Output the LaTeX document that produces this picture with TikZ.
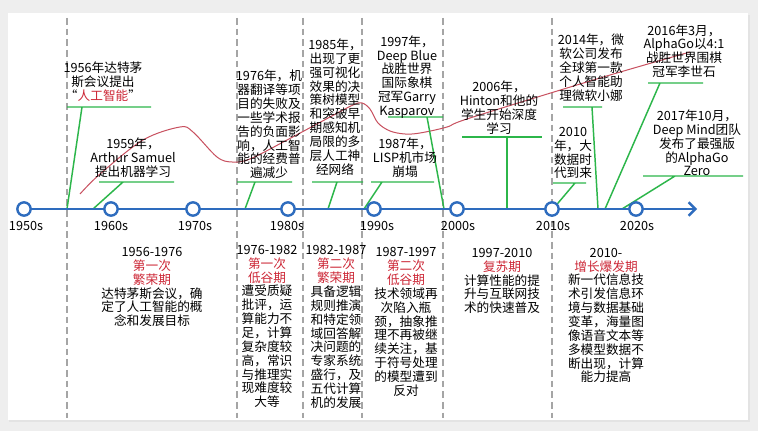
\documentclass[tikz,border=0pt]{standalone}
\usepackage{fontspec}
\setmainfont{Noto Sans CJK SC}
\usetikzlibrary{arrows.meta,positioning}
\definecolor{axisblue}{RGB}{46,108,190}
\definecolor{callgreen}{RGB}{44,182,74}
\definecolor{hotred}{RGB}{205,40,55}
\definecolor{trendred}{RGB}{200,80,95}
\definecolor{pagegray}{RGB}{238,238,238}
\definecolor{rulegray}{RGB}{165,165,165}

\begin{document}
\begin{tikzpicture}[x=0.75pt,y=-0.75pt,
    txt/.style={align=center,inner sep=0pt,font=\fontsize{9.5}{10.4}\selectfont},
    year/.style={inner sep=0pt,font=\fontsize{9.5}{10.4}\selectfont},
    dot/.style={circle,draw=axisblue,line width=1.8pt,fill=white,minimum size=10pt,inner sep=0pt},
    era/.style={draw=rulegray,line width=0.9pt,dash pattern=on 5pt off 3pt},
    axis/.style={draw=axisblue,line width=1.8pt,-{Straight Barb[length=5pt,width=10pt]}},
    callout/.style={draw=callgreen,line width=1.1pt},
    trend/.style={draw=trendred,line width=0.75pt}
]
% page and card
\fill[pagegray] (0,0) rectangle (758,431);
\fill[gray!22] (9,15) rectangle (750,422);
\fill[white] (8,13) rectangle (748,420);

% era separators
\coordinate (s1t) at (67,18);  \coordinate (s1b) at (67,418);
\coordinate (s2t) at (237,18); \coordinate (s2b) at (237,418);
\coordinate (s3t) at (303,18); \coordinate (s3b) at (303,418);
\coordinate (s4t) at (362,18); \coordinate (s4b) at (362,418);
\coordinate (s5t) at (443,18); \coordinate (s5b) at (443,418);
\coordinate (s6t) at (552,18); \coordinate (s6b) at (552,418);
\draw[era] (s1t)--(s1b);
\draw[era] (s2t)--(s2b);
\draw[era] (s3t)--(s3b);
\draw[era] (s4t)--(s4b);
\draw[era] (s5t)--(s5b);
\draw[era] (s6t)--(s6b);

% trend curve
\draw[trend] plot[smooth,tension=0.55] coordinates {(80,194) (100,174) (143,140) (180,127)
  (193,132) (217,157) (232,162) (250,159) (287,140) (330,117) (353,105) (362,103)
  (370,109) (378,123) (390,131) (405,134) (420,133) (447,127) (470,118) (600,78) (690,52)};

% callouts: underline, knee, foot on the axis
\coordinate (u56l) at (67,107);  \coordinate (u56r) at (151,107); \coordinate (k56) at (82,107);  \coordinate (f56) at (67,209);
\coordinate (u59l) at (99,182);  \coordinate (u59r) at (174,182); \coordinate (k59) at (123,182); \coordinate (f59) at (93,209);
\coordinate (u76l) at (237,182); \coordinate (u76r) at (292,182); \coordinate (k76) at (255,182); \coordinate (f76) at (245,209);
\coordinate (u85l) at (312,182); \coordinate (u85r) at (363,182); \coordinate (k85) at (337,182); \coordinate (f85) at (328,209);
\coordinate (u97l) at (388,117); \coordinate (u97r) at (443,117); \coordinate (k97) at (427,117); \coordinate (f97) at (444,209);
\coordinate (u87l) at (371,182); \coordinate (u87r) at (434,182); \coordinate (k87) at (382,182); \coordinate (f87) at (364,209);
\coordinate (u06l) at (462,137); \coordinate (u06r) at (542,137); \coordinate (k06) at (507,137); \coordinate (f06) at (507,209);
\coordinate (u10l) at (553,183); \coordinate (u10r) at (586,183); \coordinate (k10) at (575,183); \coordinate (f10) at (553,209);
\coordinate (u14l) at (563,107); \coordinate (u14r) at (602,107); \coordinate (k14) at (592,107); \coordinate (f14) at (598,209);
\coordinate (u16l) at (648,83);  \coordinate (u16r) at (703,83);  \coordinate (k16) at (660,83);  \coordinate (f16) at (605,209);
\coordinate (u17l) at (643,176); \coordinate (u17r) at (743,176); \coordinate (k17) at (675,176); \coordinate (f17) at (622,209);
\draw[callout] (u56l)--(u56r) (k56)--(f56);
\draw[callout] (u59l)--(u59r) (k59)--(f59);
\draw[callout] (u76l)--(u76r) (k76)--(f76);
\draw[callout] (u85l)--(u85r) (k85)--(f85);
\draw[callout] (u97l)--(u97r) (k97)--(f97);
\draw[callout] (u87l)--(u87r) (k87)--(f87);
\draw[callout] (u06l)--(u06r) (k06)--(f06);
\draw[callout] (u10l)--(u10r) (k10)--(f10);
\draw[callout] (u14l)--(u14r) (k14)--(f14);
\draw[callout] (u16l)--(u16r) (k16)--(f16);
\draw[callout] (u17l)--(u17r) (k17)--(f17);

% time axis
\coordinate (axstart) at (24,209);
\coordinate (axend) at (697,209);
\draw[axis] (axstart)--(axend);
\node[dot] (y1950) at (24,209) {};
\node[dot] (y1960) at (111,209) {};
\node[dot] (y1970) at (193,209) {};
\node[dot] (y1980) at (288,209) {};
\node[dot] (y1990) at (374,209) {};
\node[dot] (y2000) at (457,209) {};
\node[dot] (y2010) at (552,209) {};
\node[dot] (y2020) at (636,209) {};
\node[year] (l1950) at (26,226) {1950s};
\node[year] (l1960) at (111,226) {1960s};
\node[year] (l1970) at (195,226) {1970s};
\node[year] (l1980) at (287,226) {1980s};
\node[year] (l1990) at (377,226) {1990s};
\node[year] (l2000) at (458,226) {2000s};
\node[year] (l2010) at (553,226) {2010s};
\node[year] (l2020) at (637,226) {2020s};

% events above the axis
\node[txt] (dartmouth) at (103,82) {1956年达特茅\\斯会议提出\\“{\color{hotred}人工智能}”};
\node[txt] (samuel) at (133,157.5) {1959年，\\Arthur Samuel\\提出机器学习};
\node[txt] (funding) at (269,124.5) {1976年，机\\器翻译等项\\目的失败及\\一些学术报\\告的负面影\\响，人工智\\能的经费普\\遍减少};
\node[txt] (decision) at (335,107) {1985年，\\出现了更\\强可视化\\效果的决\\策树模型\\和突破早\\期感知机\\局限的多\\层人工神\\经网络};
\node[txt] (deepblue) at (407,77) {1997年，\\Deep Blue\\战胜世界\\国际象棋\\冠军Garry\\Kasparov};
\node[txt] (lisp) at (405,157.5) {1987年，\\LISP机市场\\崩塌};
\node[txt] (hinton) at (499,107.5) {2006年，\\Hinton和他的\\学生开始深度\\学习};
\node[txt] (bigdata) at (573,153) {2010\\年，大\\数据时\\代到来};
\node[txt] (xiaona) at (591,67.5) {2014年，微\\软公司发布\\全球第一款\\个人智能助\\理微软小娜};
\node[txt] (alphago) at (684,51) {2016年3月，\\AlphaGo以4:1\\战胜世界围棋\\冠军李世石};
\node[txt] (zero) at (697,143) {2017年10月，\\Deep Mind团队\\发布了最强版\\的AlphaGo\\Zero};

% periods below the axis
\node[txt] (boom1) at (152,287) {1956-1976\\{\color{hotred}第一次}\\{\color{hotred}繁荣期}\\达特茅斯会议，确\\定了人工智能的概\\念和发展目标};
\node[txt] (winter1) at (267,326.5) {1976-1982\\{\color{hotred}第一次}\\{\color{hotred}低谷期}\\遭受质疑\\批评，运\\算能力不\\足，计算\\复杂度较\\高，常识\\与推理实\\现难度较\\大等};
\node[txt] (boom2) at (336,327) {1982-1987\\{\color{hotred}第二次}\\{\color{hotred}繁荣期}\\具备逻辑\\规则推演\\和特定领\\域回答解\\决问题的\\专家系统\\盛行，及\\五代计算\\机的发展};
\node[txt] (winter2) at (406,322) {1987-1997\\{\color{hotred}第二次}\\{\color{hotred}低谷期}\\技术领域再\\次陷入瓶\\颈，抽象推\\理不再被继\\续关注，基\\于符号处理\\的模型遭到\\反对};
\node[txt] (revival) at (502,281) {1997-2010\\{\color{hotred}复苏期}\\计算性能的提\\升与互联网技\\术的快速普及};
\node[txt] (surge) at (606,315.5) {2010-\\{\color{hotred}增长爆发期}\\新一代信息技\\术引发信息环\\境与数据基础\\变革，海量图\\像语音文本等\\多模型数据不\\断出现，计算\\能力提高};
\end{tikzpicture}
\end{document}
